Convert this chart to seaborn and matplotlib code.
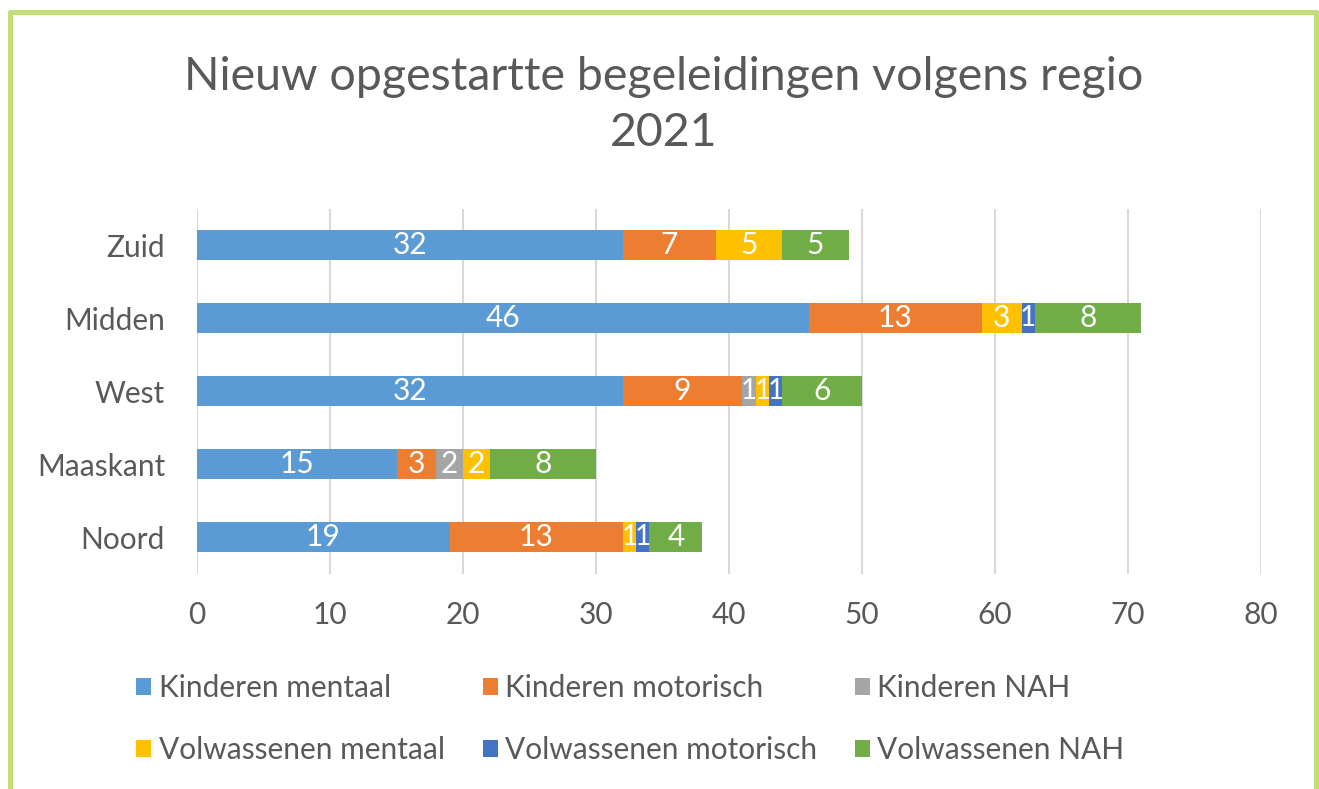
import matplotlib
matplotlib.use("Agg")
import matplotlib.pyplot as plt
from matplotlib.patches import Patch
from matplotlib.lines import Line2D
import numpy as np
import pandas as pd
import seaborn as sns

# data
regions = ["Zuid", "Midden", "West", "Maaskant", "Noord"]
series = ["Kinderen mentaal", "Kinderen motorisch", "Kinderen NAH",
          "Volwassenen mentaal", "Volwassenen motorisch", "Volwassenen NAH"]
kinderen_mentaal = [32, 46, 32, 15, 19]
kinderen_motorisch = [7, 13, 9, 3, 13]
kinderen_nah = [0, 0, 1, 2, 0]
volwassenen_mentaal = [5, 3, 1, 2, 1]
volwassenen_motorisch = [0, 1, 1, 0, 1]
volwassenen_nah = [5, 8, 6, 8, 4]
colors = ["#5B9BD5", "#ED7D31", "#A5A5A5", "#FFC000", "#4472C4", "#70AD47"]

values = [kinderen_mentaal, kinderen_motorisch, kinderen_nah,
          volwassenen_mentaal, volwassenen_motorisch, volwassenen_nah]

sns.set_theme(style="white")
plt.rcParams["font.family"] = ["Lato", "DejaVu Sans"]
grey = "#595959"

df = pd.DataFrame(dict(zip(series, values)), index=regions)
cum = df.cumsum(axis=1)

fig = plt.figure(figsize=(13.19, 7.89), dpi=100)
ax = fig.add_axes([0.1494, 0.2731, 0.8066, 0.4626])

# stacked bars: draw cumulative totals from the outermost series inwards
for s, c in reversed(list(zip(series, colors))):
    d = pd.DataFrame({"region": regions, "value": cum[s].values})
    sns.barplot(data=d, y="region", x="value", order=regions, color=c,
                orient="h", width=0.41, saturation=1, linewidth=0,
                ax=ax, zorder=3)

# segment labels (the 1-wide segments crowd together, as in the original)
for s in series:
    for i, r in enumerate(regions):
        v = df.loc[r, s]
        if v > 0:
            ax.text(cum.loc[r, s] - v / 2, i, str(v), ha="center", va="center",
                    color="white", fontsize=21.5 if v > 1 else 20, zorder=5)

ax.set_xlim(0, 80)
ax.set_ylim(4.5, -0.5)
ax.set_xticks(np.arange(0, 81, 10))
ax.grid(axis="x", color="#D9D9D9", linewidth=1.5, zorder=0)
ax.grid(axis="y", visible=False)
for sp in ax.spines.values():
    sp.set_visible(False)
ax.set_xlabel("")
ax.set_ylabel("")
ax.tick_params(axis="x", length=0, pad=20, labelsize=21.5, labelcolor=grey)
ax.tick_params(axis="y", length=0, pad=23, labelsize=21.5, labelcolor=grey)

fig.text(0.503, 1 - 105 / 789, "Nieuw opgestartte begeleidingen volgens regio\n2021",
         ha="center", va="center", fontsize=33.5, color=grey, linespacing=1.4)

# legend, filled column by column so rows read Kinderen / Volwassenen
order = [0, 3, 1, 4, 2, 5]
handles = [Patch(facecolor=colors[k], edgecolor="none", label=series[k]) for k in order]
fig.legend(handles=handles, loc="center", bbox_to_anchor=(0.478, 0.0885), ncol=3,
           frameon=False, fontsize=21.5, labelcolor=grey, handlelength=0.5,
           handleheight=0.5, handletextpad=0.25, columnspacing=1.27,
           labelspacing=1.12)

# green frame around the chart
bc = "#C3DD7C"
lw = 3.6
x0, x1, yt = 9.5 / 1319, 1316 / 1319, 1 - 11.5 / 789
fig.add_artist(Line2D([x0, x1], [yt, yt], color=bc, lw=lw, transform=fig.transFigure))
fig.add_artist(Line2D([x0, x0], [0, yt], color=bc, lw=lw, transform=fig.transFigure))
fig.add_artist(Line2D([x1, x1], [0, yt], color=bc, lw=lw, transform=fig.transFigure))

fig.savefig("out.png", dpi=100)
